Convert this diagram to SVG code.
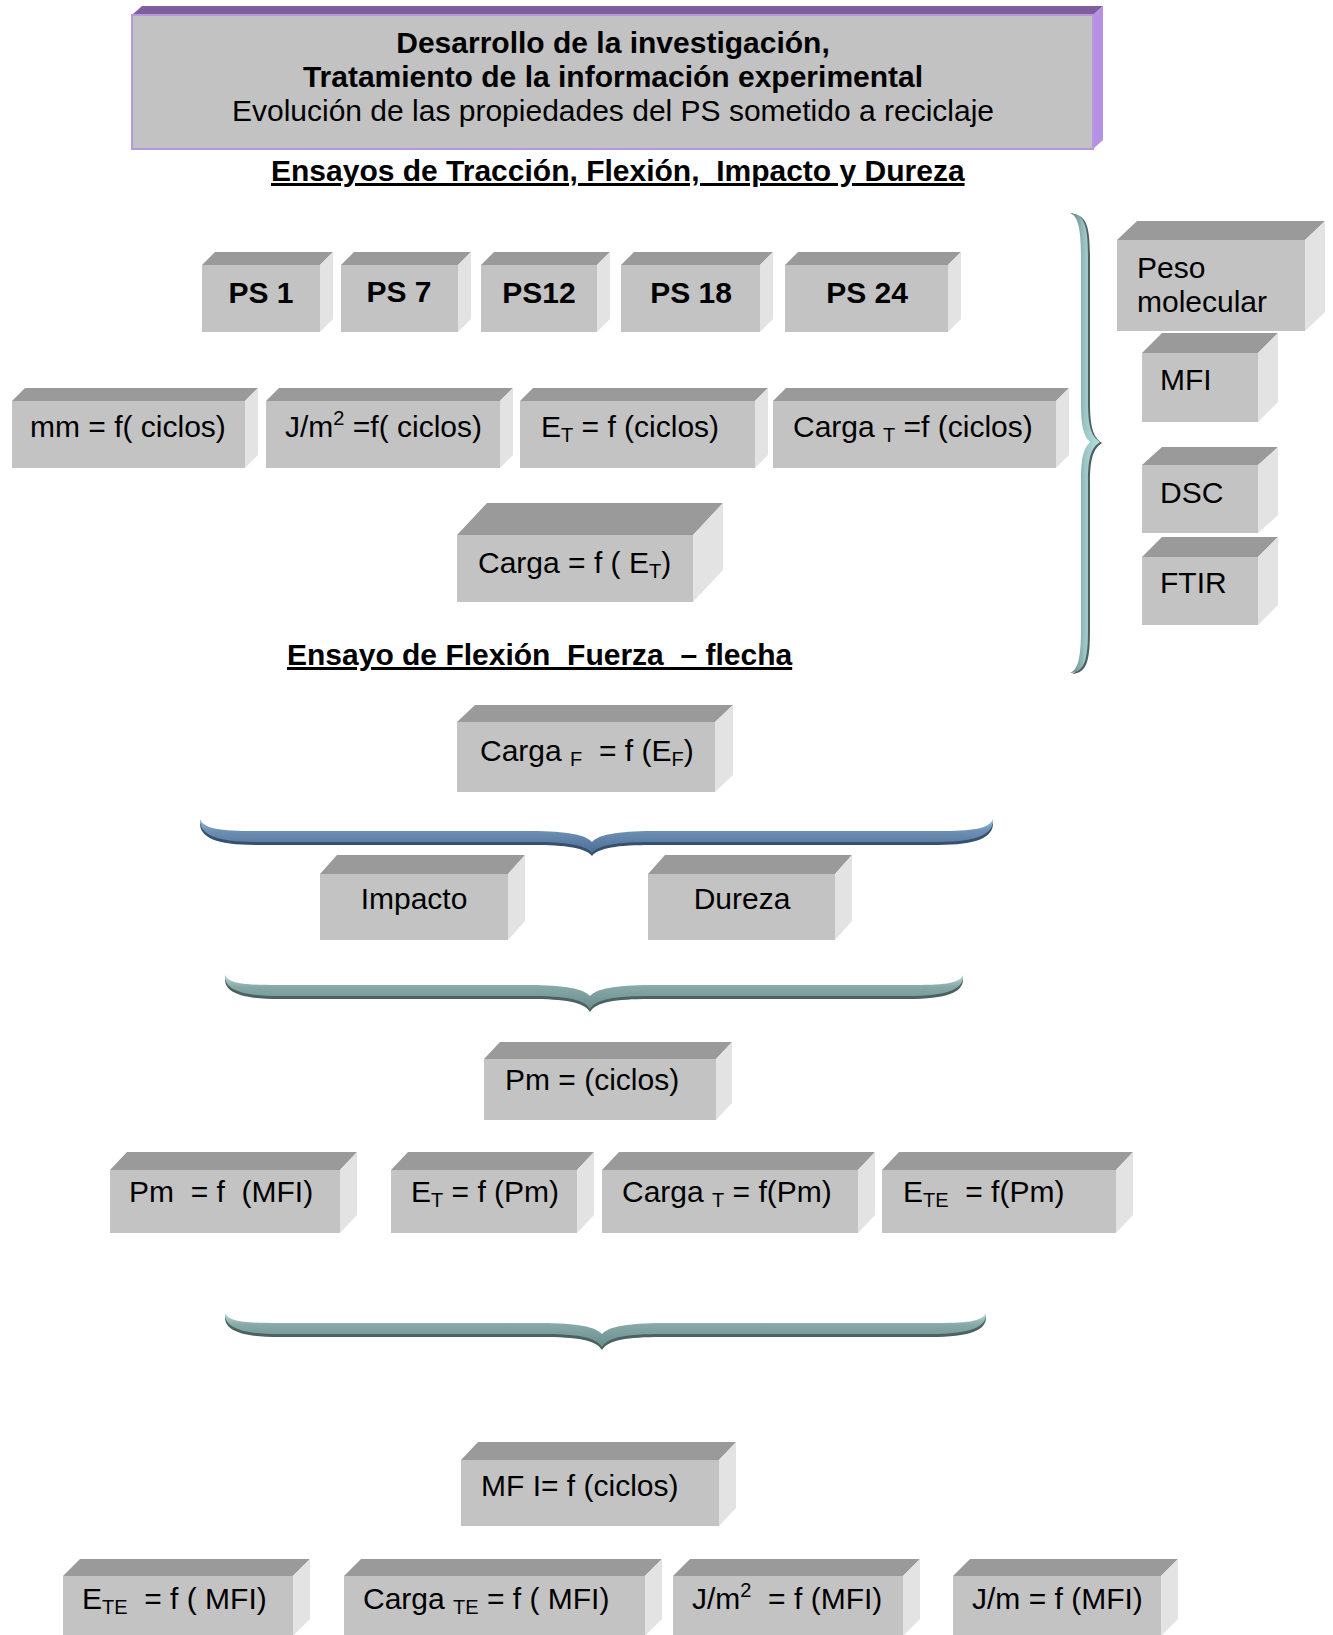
<svg xmlns="http://www.w3.org/2000/svg" width="1333" height="1635" viewBox="0 0 1333 1635">
  <style>
    .front { fill: #c3c3c3; }
    .top { fill: #9a9a9a; }
    .side { fill: #e3e3e3; }
    .lbl { font-family: "Liberation Sans", Arial, sans-serif; font-size: 30px; fill: #000; }
    .b { font-weight: bold; }
    .mid { text-anchor: middle; }
    .sm { font-size: 20px; }
    .head { font-family: "Liberation Sans", Arial, sans-serif; font-size: 30px; font-weight: bold; text-decoration: underline; fill: #000; }
  </style>
  <defs>
    <linearGradient id="blueBrace" x1="0" y1="0" x2="0" y2="1">
      <stop offset="0" stop-color="#9dbad6"/>
      <stop offset="0.35" stop-color="#6e90b5"/>
      <stop offset="1" stop-color="#4d6d93"/>
    </linearGradient>
    <linearGradient id="tealBrace" x1="0" y1="0" x2="0" y2="1">
      <stop offset="0" stop-color="#b7dada"/>
      <stop offset="0.35" stop-color="#86a9a8"/>
      <stop offset="1" stop-color="#6a8e8c"/>
    </linearGradient>
    <linearGradient id="tealBraceV" x1="0" y1="0" x2="1" y2="0">
      <stop offset="0" stop-color="#5f7f7d"/>
      <stop offset="0.5" stop-color="#9cc6c6"/>
      <stop offset="1" stop-color="#b9e0e0"/>
    </linearGradient>
  </defs>
  <rect width="1333" height="1635" fill="#fff"/>

  <!-- title block -->
  <g id="title">
    <polygon points="132,15 142,6 1103,6 1093,15" fill="#7e5e9c"/>
    <polygon points="1093,15 1103,6 1103,140 1093,149" fill="#b590e4"/>
    <rect x="132" y="15" width="961" height="134" fill="#c2c2c2" stroke="#b898dc" stroke-width="2"/>
    <text class="lbl b mid" x="613" y="53">Desarrollo de la investigación,</text>
    <text class="lbl b mid" x="613" y="87">Tratamiento de la información experimental</text>
    <text class="lbl mid" x="613" y="121">Evolución de las propiedades del PS sometido a reciclaje</text>
  </g>

  <text id="heading-traccion" class="head" x="271" y="181" xml:space="preserve">Ensayos de Tracción, Flexión,  Impacto y Dureza</text>

  <!-- sample boxes -->
  <g id="ps1">
    <polygon class="top" points="202,265 215,252 333,252 320,265"/>
    <polygon class="side" points="320,265 333,252 333,319 320,332"/>
    <rect class="front" x="202" y="265" width="118" height="67"/>
    <text class="lbl b mid" x="261" y="303">PS 1</text>
  </g>
  <g id="ps7">
    <polygon class="top" points="341,265 354,252 471,252 458,265"/>
    <polygon class="side" points="458,265 471,252 471,319 458,332"/>
    <rect class="front" x="341" y="265" width="117" height="67"/>
    <text class="lbl b mid" x="399" y="302">PS 7</text>
  </g>
  <g id="ps12">
    <polygon class="top" points="481,265 494,252 610,252 597,265"/>
    <polygon class="side" points="597,265 610,252 610,319 597,332"/>
    <rect class="front" x="481" y="265" width="116" height="67"/>
    <text class="lbl b mid" x="539" y="303">PS12</text>
  </g>
  <g id="ps18">
    <polygon class="top" points="621,265 634,252 773,252 760,265"/>
    <polygon class="side" points="760,265 773,252 773,319 760,332"/>
    <rect class="front" x="621" y="265" width="139" height="67"/>
    <text class="lbl b mid" x="691" y="303">PS 18</text>
  </g>
  <g id="ps24">
    <polygon class="top" points="785,265 798,252 961,252 948,265"/>
    <polygon class="side" points="948,265 961,252 961,319 948,332"/>
    <rect class="front" x="785" y="265" width="163" height="67"/>
    <text class="lbl b mid" x="867" y="303">PS 24</text>
  </g>

  <!-- functions of cycles -->
  <g id="mm-ciclos">
    <polygon class="top" points="12,401 25,388 258,388 245,401"/>
    <polygon class="side" points="245,401 258,388 258,455 245,468"/>
    <rect class="front" x="12" y="401" width="233" height="67"/>
    <text class="lbl" x="30" y="437">mm = f( ciclos)</text>
  </g>
  <g id="jm2-ciclos">
    <polygon class="top" points="266,401 279,388 513,388 500,401"/>
    <polygon class="side" points="500,401 513,388 513,455 500,468"/>
    <rect class="front" x="266" y="401" width="234" height="67"/>
    <text class="lbl" x="285" y="437" xml:space="preserve">J/m<tspan class="sm" dy="-12">2</tspan><tspan dy="12"> =f( ciclos)</tspan></text>
  </g>
  <g id="et-ciclos">
    <polygon class="top" points="520,401 533,388 768,388 755,401"/>
    <polygon class="side" points="755,401 768,388 768,455 755,468"/>
    <rect class="front" x="520" y="401" width="235" height="67"/>
    <text class="lbl" x="541" y="437" xml:space="preserve">E<tspan class="sm" dy="5">T</tspan><tspan dy="-5"> = f (ciclos)</tspan></text>
  </g>
  <g id="cargat-ciclos">
    <polygon class="top" points="773,401 786,388 1069,388 1056,401"/>
    <polygon class="side" points="1056,401 1069,388 1069,455 1056,468"/>
    <rect class="front" x="773" y="401" width="283" height="67"/>
    <text class="lbl" x="793" y="437" xml:space="preserve">Carga <tspan class="sm" dy="5">T</tspan><tspan dy="-5"> =f (ciclos)</tspan></text>
  </g>

  <g id="carga-et">
    <polygon class="top" points="457,535 487,503 723,503 693,535"/>
    <polygon class="side" points="693,535 723,503 723,570 693,602"/>
    <rect class="front" x="457" y="535" width="236" height="67"/>
    <text class="lbl" x="478" y="573" xml:space="preserve">Carga = f ( E<tspan class="sm" dy="5">T</tspan><tspan dy="-5">)</tspan></text>
  </g>

  <text id="heading-flexion" class="head" x="287" y="665" xml:space="preserve">Ensayo de Flexión  Fuerza  – flecha</text>

  <g id="carga-ef">
    <polygon class="top" points="457,722 475,705 733,705 715,722"/>
    <polygon class="side" points="715,722 733,705 733,775 715,792"/>
    <rect class="front" x="457" y="722" width="258" height="70"/>
    <text class="lbl" x="480" y="761" xml:space="preserve">Carga <tspan class="sm" dy="5">F</tspan><tspan dy="-5">  = f (E</tspan><tspan class="sm" dy="5">F</tspan><tspan dy="-5">)</tspan></text>
  </g>

  <g id="impacto">
    <polygon class="top" points="320,874 337,855 525,855 508,874"/>
    <polygon class="side" points="508,874 525,855 525,921 508,940"/>
    <rect class="front" x="320" y="874" width="188" height="66"/>
    <text class="lbl mid" x="414" y="909">Impacto</text>
  </g>
  <g id="dureza">
    <polygon class="top" points="648,874 665,855 852,855 835,874"/>
    <polygon class="side" points="835,874 852,855 852,921 835,940"/>
    <rect class="front" x="648" y="874" width="187" height="66"/>
    <text class="lbl mid" x="742" y="909">Dureza</text>
  </g>

  <g id="pm-ciclos">
    <polygon class="top" points="484,1059 500,1042 732,1042 716,1059"/>
    <polygon class="side" points="716,1059 732,1042 732,1103 716,1120"/>
    <rect class="front" x="484" y="1059" width="232" height="61"/>
    <text class="lbl" x="505" y="1090">Pm = (ciclos)</text>
  </g>

  <!-- functions of molecular weight -->
  <g id="pm-mfi">
    <polygon class="top" points="110,1170 127,1152 357,1152 340,1170"/>
    <polygon class="side" points="340,1170 357,1152 357,1215 340,1233"/>
    <rect class="front" x="110" y="1170" width="230" height="63"/>
    <text class="lbl" x="129" y="1202" xml:space="preserve">Pm  = f  (MFI)</text>
  </g>
  <g id="et-pm">
    <polygon class="top" points="391,1170 408,1152 594,1152 577,1170"/>
    <polygon class="side" points="577,1170 594,1152 594,1215 577,1233"/>
    <rect class="front" x="391" y="1170" width="186" height="63"/>
    <text class="lbl" x="411" y="1202" xml:space="preserve">E<tspan class="sm" dy="5">T</tspan><tspan dy="-5"> = f (Pm)</tspan></text>
  </g>
  <g id="cargat-pm">
    <polygon class="top" points="602,1170 619,1152 875,1152 858,1170"/>
    <polygon class="side" points="858,1170 875,1152 875,1215 858,1233"/>
    <rect class="front" x="602" y="1170" width="256" height="63"/>
    <text class="lbl" x="622" y="1202" xml:space="preserve">Carga <tspan class="sm" dy="5">T</tspan><tspan dy="-5"> = f(Pm)</tspan></text>
  </g>
  <g id="ete-pm">
    <polygon class="top" points="882,1170 899,1152 1133,1152 1116,1170"/>
    <polygon class="side" points="1116,1170 1133,1152 1133,1215 1116,1233"/>
    <rect class="front" x="882" y="1170" width="234" height="63"/>
    <text class="lbl" x="903" y="1202" xml:space="preserve">E<tspan class="sm" dy="5">TE</tspan><tspan dy="-5">  = f(Pm)</tspan></text>
  </g>

  <g id="mfi-ciclos">
    <polygon class="top" points="461,1460 478,1442 736,1442 719,1460"/>
    <polygon class="side" points="719,1460 736,1442 736,1508 719,1526"/>
    <rect class="front" x="461" y="1460" width="258" height="66"/>
    <text class="lbl" x="481" y="1496">MF I= f (ciclos)</text>
  </g>

  <!-- functions of melt flow index -->
  <g id="ete-mfi">
    <polygon class="top" points="63,1576 80,1559 310,1559 293,1576"/>
    <polygon class="side" points="293,1576 310,1559 310,1619 293,1636"/>
    <rect class="front" x="63" y="1576" width="230" height="60"/>
    <text class="lbl" x="82" y="1609" xml:space="preserve">E<tspan class="sm" dy="5">TE</tspan><tspan dy="-5">  = f ( MFI)</tspan></text>
  </g>
  <g id="cargate-mfi">
    <polygon class="top" points="344,1576 361,1559 662,1559 645,1576"/>
    <polygon class="side" points="645,1576 662,1559 662,1619 645,1636"/>
    <rect class="front" x="344" y="1576" width="301" height="60"/>
    <text class="lbl" x="363" y="1609" xml:space="preserve">Carga <tspan class="sm" dy="5">TE</tspan><tspan dy="-5"> = f ( MFI)</tspan></text>
  </g>
  <g id="jm2-mfi">
    <polygon class="top" points="673,1576 690,1559 920,1559 903,1576"/>
    <polygon class="side" points="903,1576 920,1559 920,1619 903,1636"/>
    <rect class="front" x="673" y="1576" width="230" height="60"/>
    <text class="lbl" x="692" y="1609" xml:space="preserve">J/m<tspan class="sm" dy="-12">2</tspan><tspan dy="12">  = f (MFI)</tspan></text>
  </g>
  <g id="jm-mfi">
    <polygon class="top" points="953,1576 970,1559 1178,1559 1161,1576"/>
    <polygon class="side" points="1161,1576 1178,1559 1178,1619 1161,1636"/>
    <rect class="front" x="953" y="1576" width="208" height="60"/>
    <text class="lbl" x="972" y="1609">J/m = f (MFI)</text>
  </g>

  <!-- characterisation techniques -->
  <g id="peso-molecular">
    <polygon class="top" points="1117,240 1137,221 1325,221 1305,240"/>
    <polygon class="side" points="1305,240 1325,221 1325,312 1305,331"/>
    <rect class="front" x="1117" y="240" width="188" height="91"/>
    <text class="lbl" x="1137" y="278">Peso</text>
    <text class="lbl" x="1137" y="312">molecular</text>
  </g>
  <g id="mfi">
    <polygon class="top" points="1142,353 1162,333 1278,333 1258,353"/>
    <polygon class="side" points="1258,353 1278,333 1278,402 1258,422"/>
    <rect class="front" x="1142" y="353" width="116" height="69"/>
    <text class="lbl" x="1160" y="390">MFI</text>
  </g>
  <g id="dsc">
    <polygon class="top" points="1142,465 1162,447 1278,447 1258,465"/>
    <polygon class="side" points="1258,465 1278,447 1278,515 1258,533"/>
    <rect class="front" x="1142" y="465" width="116" height="68"/>
    <text class="lbl" x="1160" y="503">DSC</text>
  </g>
  <g id="ftir">
    <polygon class="top" points="1142,557 1162,537 1278,537 1258,557"/>
    <polygon class="side" points="1258,557 1278,537 1278,605 1258,625"/>
    <rect class="front" x="1142" y="557" width="116" height="68"/>
    <text class="lbl" x="1160" y="593">FTIR</text>
  </g>

  <!-- grouping braces -->
  <g id="connectors">
    <g id="brace-right">
      <path transform="translate(2,1)" fill="#4a605f" d="M1070,213 C1078,216 1081,228 1081,258 L1081,402 C1081,428 1084,436 1090,442 C1084,448 1081,456 1081,482 L1081,628 C1081,658 1078,670 1070,673 C1085,672 1088,660 1088,628 L1088,482 C1088,458 1091,448 1100,442 C1091,436 1088,426 1088,402 L1088,258 C1088,226 1085,214 1070,213 Z"/>
      <path fill="url(#tealBraceV)" d="M1070,213 C1078,216 1081,228 1081,258 L1081,402 C1081,428 1084,436 1090,442 C1084,448 1081,456 1081,482 L1081,628 C1081,658 1078,670 1070,673 C1085,672 1088,660 1088,628 L1088,482 C1088,458 1091,448 1100,442 C1091,436 1088,426 1088,402 L1088,258 C1088,226 1085,214 1070,213 Z"/>
    </g>
    <g id="brace-flexion">
      <path transform="translate(0,3)" fill="#36506e" d="M200,819 C204,829 220,831 255,831 L532,831 C567,831 586,835 592,842 C598,835 617,831 652,831 L938,831 C973,831 989,829 993,819 C994,834 978,842 938,842 L652,842 C617,842 598,845 592,853 C586,845 567,842 532,842 L255,842 C215,842 199,834 200,819 Z"/>
      <path fill="url(#blueBrace)" d="M200,819 C204,829 220,831 255,831 L532,831 C567,831 586,835 592,842 C598,835 617,831 652,831 L938,831 C973,831 989,829 993,819 C994,834 978,842 938,842 L652,842 C617,842 598,845 592,853 C586,845 567,842 532,842 L255,842 C215,842 199,834 200,819 Z"/>
    </g>
    <g id="brace-impacto">
      <path transform="translate(0,3)" fill="#4d6260" d="M225,975 C229,984 245,985 280,985 L530,985 C565,985 584,989 590,996 C596,989 615,985 650,985 L908,985 C943,985 959,984 963,975 C964,989 948,996 908,996 L650,996 C615,996 596,999 590,1009 C584,999 565,996 530,996 L280,996 C240,996 224,989 225,975 Z"/>
      <path fill="url(#tealBrace)" d="M225,975 C229,984 245,985 280,985 L530,985 C565,985 584,989 590,996 C596,989 615,985 650,985 L908,985 C943,985 959,984 963,975 C964,989 948,996 908,996 L650,996 C615,996 596,999 590,1009 C584,999 565,996 530,996 L280,996 C240,996 224,989 225,975 Z"/>
    </g>
    <g id="brace-pm">
      <path transform="translate(0,3)" fill="#4d6260" d="M225,1313 C229,1322 245,1323 280,1323 L542,1323 C577,1323 596,1327 602,1334 C608,1327 627,1323 662,1323 L931,1323 C966,1323 982,1322 986,1313 C987,1327 971,1334 931,1334 L662,1334 C627,1334 608,1337 602,1347 C596,1337 577,1334 542,1334 L280,1334 C240,1334 224,1327 225,1313 Z"/>
      <path fill="url(#tealBrace)" d="M225,1313 C229,1322 245,1323 280,1323 L542,1323 C577,1323 596,1327 602,1334 C608,1327 627,1323 662,1323 L931,1323 C966,1323 982,1322 986,1313 C987,1327 971,1334 931,1334 L662,1334 C627,1334 608,1337 602,1347 C596,1337 577,1334 542,1334 L280,1334 C240,1334 224,1327 225,1313 Z"/>
    </g>
  </g>
</svg>
